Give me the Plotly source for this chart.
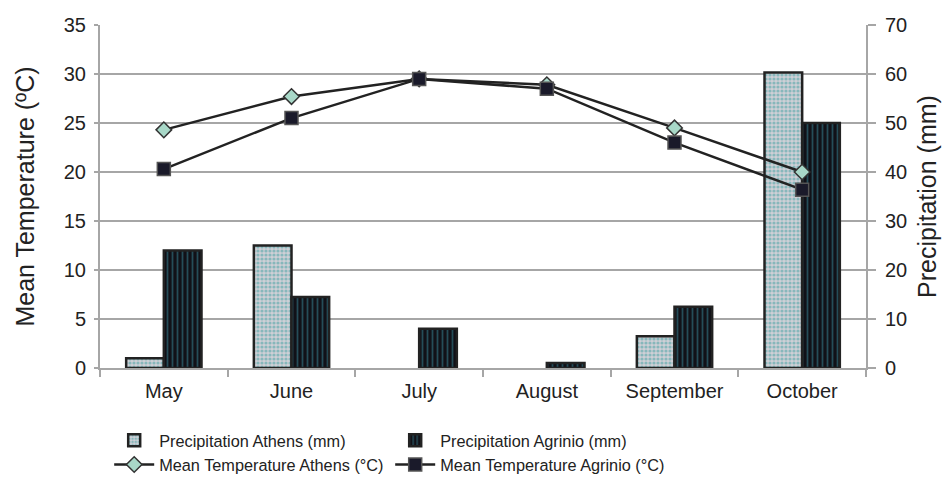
import plotly.graph_objects as go

months = ["May", "June", "July", "August", "September", "October"]
precip_athens = [2.0, 25.0, 0.0, 0.0, 6.5, 60.3]
precip_agrinio = [24.0, 14.5, 8.0, 1.0, 12.5, 50.0]
temp_athens = [24.3, 27.7, 29.5, 28.9, 24.5, 20.0]
temp_agrinio = [20.3, 25.5, 29.5, 28.5, 23.0, 18.2]

FONT = "Liberation Sans, Arial, sans-serif"
TXT = "#222222"
GRID = "#a6a6a6"

def border_widths(vals):
    return [2.5 if v > 0 else 0 for v in vals]

fig = go.Figure()
fig.add_trace(go.Bar(
    x=months, y=precip_athens, name="Precipitation Athens (mm)", yaxis="y",
    marker=dict(color="#c8c8d0", line=dict(color="#222222", width=border_widths(precip_athens)),
                pattern=dict(shape=".", fgcolor="#40a0a0", bgcolor="#cfcfd6", size=4, solidity=0.5)),
))
fig.add_trace(go.Bar(
    x=months, y=precip_agrinio, name="Precipitation Agrinio (mm)", yaxis="y",
    marker=dict(color="#111111", line=dict(color="#222222", width=border_widths(precip_agrinio)),
                pattern=dict(shape="|", fgcolor="#3a8a9a", bgcolor="#111118", size=5, solidity=0.35)),
))
fig.add_trace(go.Scatter(
    x=months, y=temp_athens, name="Mean Temperature Athens (°C)", yaxis="y2",
    mode="lines+markers", line=dict(color="#222222", width=2.5),
    marker=dict(symbol="diamond", size=12, color="#a8d8c8", line=dict(color="#333333", width=1.5)),
))
fig.add_trace(go.Scatter(
    x=months, y=temp_agrinio, name="Mean Temperature Agrinio (°C)", yaxis="y2",
    mode="lines+markers", line=dict(color="#222222", width=2.5),
    marker=dict(symbol="square", size=13, color="#1a1a2a", line=dict(color="#555555", width=1.5)),
))

fig.update_layout(
    width=951, height=483,
    margin=dict(l=92, r=93, t=17, b=123, autoexpand=False),
    paper_bgcolor="white", plot_bgcolor="white",
    font=dict(family=FONT, size=20, color=TXT),
    barmode="group", bargap=0.41, bargroupgap=0,
    showlegend=True,
    legend=dict(orientation="h", x=0.012, xanchor="left", y=-0.161, yanchor="top",
                font=dict(size=16.3, color=TXT), entrywidth=226,
                traceorder="normal", itemwidth=40, tracegroupgap=0),
    xaxis=dict(showgrid=False, showline=True, linecolor=GRID, linewidth=2, automargin=False,
               ticks="outside", tickcolor=GRID, ticklen=7, tickwidth=2, ticklabelstandoff=4,
               tickson="boundaries", tickfont=dict(size=20, color=TXT)),
    yaxis=dict(range=[0, 70], dtick=10, side="right", showgrid=True, gridcolor=GRID, gridwidth=2,
               showline=True, linecolor=GRID, linewidth=2, ticks="outside", tickcolor=GRID,
               ticklen=8, tickwidth=2, zeroline=False, automargin=False, ticklabelstandoff=5,
               title=dict(text="Precipitation (mm)", font=dict(size=25, color=TXT), standoff=12),
               tickfont=dict(size=20, color=TXT)),
    yaxis2=dict(range=[0, 35], dtick=5, side="left", overlaying="y", showgrid=False,
                showline=True, linecolor=GRID, linewidth=2, ticks="outside", tickcolor=GRID,
                ticklen=4, tickwidth=2, zeroline=False, automargin=False, ticklabelstandoff=4,
                title=dict(text="Mean Temperature (ºC)", font=dict(size=25, color=TXT), standoff=22),
                tickfont=dict(size=20, color=TXT)),
)

fig.write_html("out.html")
